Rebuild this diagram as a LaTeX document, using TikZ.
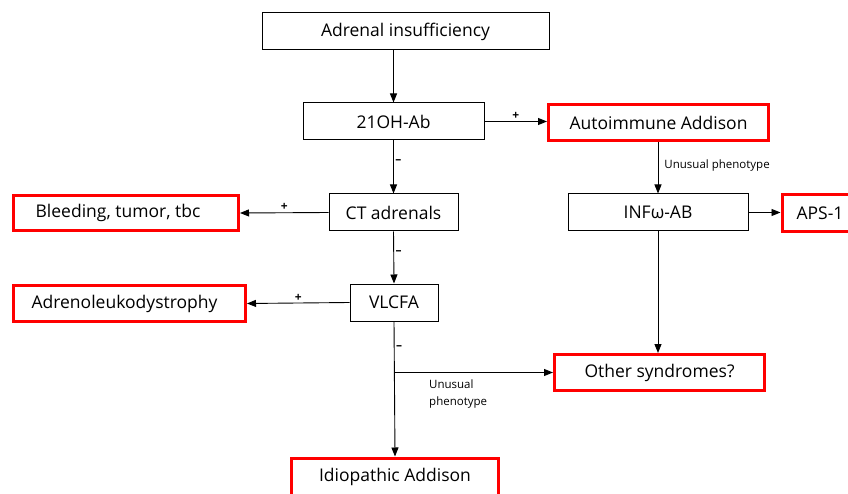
\documentclass[tikz,border=0pt]{standalone}
\usepackage{fontspec}
\setmainfont{Open Sans}
\usetikzlibrary{arrows.meta}
\begin{document}
\begin{tikzpicture}[x=1pt,y=-1pt,
  box/.style={draw=black, line width=1pt, inner sep=0pt, font=\fontsize{17.5}{20}\selectfont},
  redbox/.style={draw=red, line width=3pt, inner sep=0pt, font=\fontsize{17.5}{20}\selectfont},
  arr/.style={-{Triangle[length=9pt,width=7pt]}, line width=0.9pt},
  lbl/.style={font=\fontsize{12}{14}\selectfont\bfseries, inner sep=1.5pt},
  small/.style={font=\fontsize{11.5}{17}\selectfont, inner sep=0pt, align=left}]
\useasboundingbox (0,0) rectangle (848,494);
\node[box, minimum width=287pt, minimum height=37pt] (adr) at (405.5,31.5) {Adrenal insufficiency};
\node[box, minimum width=181pt, minimum height=37pt] (oh) at (393.5,121.5) {21OH-Ab};
\node[redbox, minimum width=220pt, minimum height=36pt] (aa) at (658.5,122.5) {Autoimmune Addison};
\node[box, minimum width=180pt, minimum height=37pt] (inf) at (658,212.5) {INFω-AB};
\node[redbox, minimum width=76pt, minimum height=37pt] (aps) at (820,213) {APS-1};
\node[box, minimum width=129pt, minimum height=37pt] (ct) at (393.5,212.5) {CT adrenals};
\node[redbox, minimum width=225pt, minimum height=35pt] (bl) at (126,213) {\hspace*{-16pt}Bleeding, tumor, tbc};
\node[redbox, minimum width=232pt, minimum height=36pt] (adl) at (129.5,303.5) {\hspace*{-10pt}Adrenoleukodystrophy};
\node[box, minimum width=88pt, minimum height=37pt] (vl) at (394,302.5) {VLCFA};
\node[redbox, minimum width=210pt, minimum height=36pt] (os) at (659.5,372.5) {Other syndromes?};
\node[redbox, minimum width=207pt, minimum height=38pt] (id) at (395,477) {Idiopathic Addison};
\draw[arr] (adr.south -| oh.north) -- (oh.north);
\draw[arr] (oh.east) -- (oh.east -| aa.west) node[lbl, midway, above] {+};
\draw[arr] (oh.south) -- (ct.north) node[lbl, pos=0.4, right] {--};
\draw[arr] (ct.west) -- (bl.east) node[lbl, midway, above] {+};
\draw[arr] (ct.south) -- (vl.north) node[lbl, pos=0.4, right] {--};
\draw[arr] (vl.west) -- (adl.east) node[lbl, midway, above] {+};
\draw[arr] (vl.south) -- (id.north) node[lbl, pos=0.19, right] {--};
\coordinate (br) at (vl.south |- os.west);
\draw[arr] (br) -- (os.west);
\node[small, anchor=north west] (up1) at (429,380) {Unusual\\phenotype};
\draw[arr] (aa.south -| inf.north) -- (inf.north) node[small, pos=0.45, right=6pt] (up2) {Unusual phenotype};
\draw[arr] (inf.east) -- (inf.east -| aps.west);
\draw[arr] (inf.south) -- (inf.south |- os.north);
\end{tikzpicture}
\end{document}
